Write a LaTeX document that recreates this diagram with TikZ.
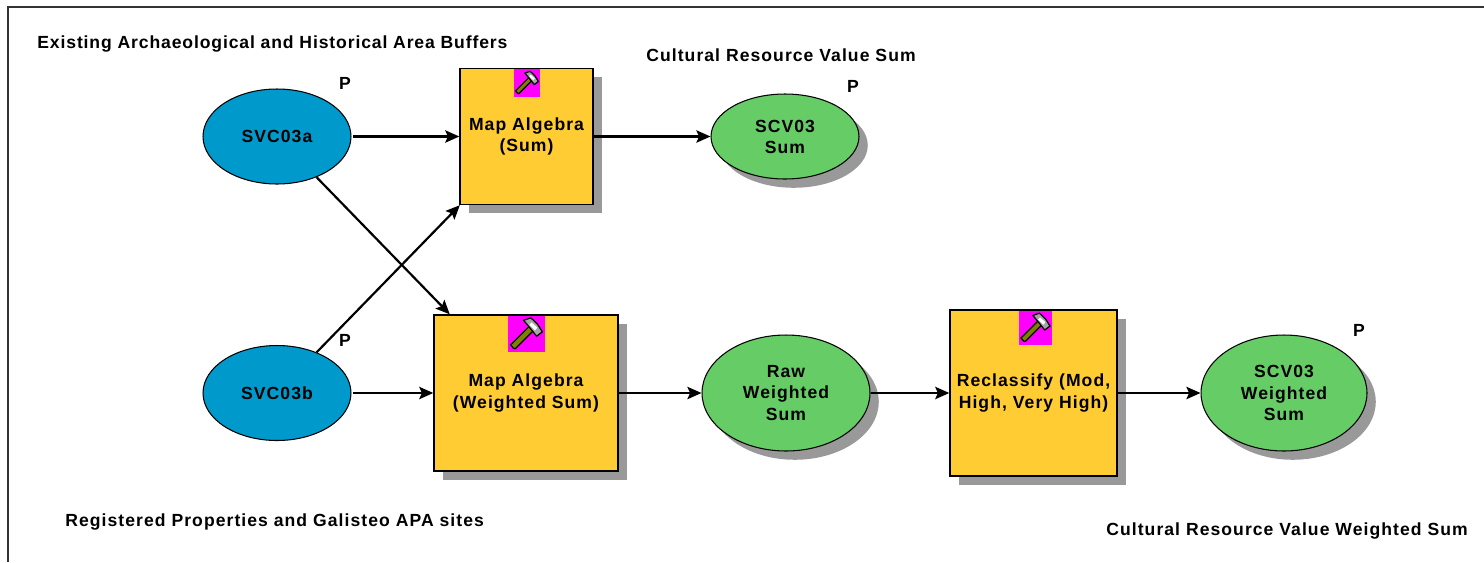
\documentclass[tikz,border=0pt]{standalone}
\usepackage{fontspec}
\setmainfont[LetterSpace=6]{Liberation Sans}
\usepackage{tikz}
\usetikzlibrary{shapes.geometric,shadows,arrows.meta}
\definecolor{inputblue}{HTML}{0099CC}
\definecolor{outputgreen}{HTML}{66CC66}
\definecolor{toolyellow}{HTML}{FFCC33}
\definecolor{shadowgray}{HTML}{999999}
\definecolor{iconpink}{HTML}{FF00FF}
\definecolor{handleolive}{HTML}{808000}

\begin{document}
\begin{tikzpicture}[
  x=0.02cm, y=-0.02cm,
  every node/.style={font=\bfseries\fontsize{10}{12}\selectfont, align=center},
  input/.style={ellipse, draw=black, fill=inputblue, line width=0.6pt, inner sep=0pt},
  output/.style={ellipse, draw=black, fill=outputgreen, line width=0.6pt, inner sep=0pt,
                 drop shadow={shadow xshift=5pt, shadow yshift=-5pt, fill=shadowgray, opacity=1}},
  tool/.style={rectangle, draw=black, fill=toolyellow, line width=0.8pt, inner sep=0pt,
               drop shadow={shadow xshift=5pt, shadow yshift=-5pt, fill=shadowgray, opacity=1}},
  icon/.style={rectangle, fill=iconpink, inner sep=0pt},
  label/.style={anchor=west, inner sep=0pt},
  arrow/.style={-{Stealth[length=8pt,width=7pt,inset=1.5pt]}, line width=1.25pt},
  pics/hammer/.style={code={
    \draw[line width=0.7pt, fill=handleolive] (-0.36,0.40) -- (-0.44,0.30) -- (0.08,-0.22) -- (0.20,-0.10) -- (-0.30,0.40) -- cycle;
    \draw[line width=0.7pt, fill=gray!70] (-0.08,-0.38) -- (0.12,-0.45) -- (0.30,-0.28) -- (0.44,-0.06) -- (0.28,0.06) -- (0.12,-0.14) -- (0.02,-0.26) -- cycle;
    \fill[white] (0.14,-0.32) -- (0.30,-0.18) -- (0.24,-0.10) -- (0.08,-0.26) -- cycle;
  }}
]
\useasboundingbox (0,0) rectangle (1484,562);

% Frame
\coordinate (frameA) at (8,562);
\coordinate (frameB) at (8,7);
\coordinate (frameC) at (1484,7);
\draw[line width=0.6pt, black!80] (frameA) -- (frameB) -- (frameC);

% Inputs
\node[input, minimum width=2.96cm, minimum height=1.9cm] (svca) at (277,136.5) {SVC03a};
\node[input, minimum width=2.96cm, minimum height=1.9cm] (svcb) at (277,393) {SVC03b};

% Top row
\node[tool, minimum width=2.66cm, minimum height=2.72cm] (sumtool) at (526.5,136.5) {Map Algebra\\(Sum)};
\node[output, minimum width=2.96cm, minimum height=1.7cm] (sumout) at (785,136.5) {SCV03\\Sum};

% Bottom row
\node[tool, minimum width=3.68cm, minimum height=3.12cm] (wsumtool) at (526,393) {Map Algebra\\(Weighted Sum)};
\node[output, minimum width=3.36cm, minimum height=2.32cm] (rawout) at (786,393) {Raw\\Weighted\\Sum};
\node[tool, minimum width=3.34cm, minimum height=3.32cm] (reclass) at (1033.5,393) {Reclassify (Mod,\\High, Very High)};
\node[output, minimum width=3.32cm, minimum height=2.32cm] (wsumout) at (1284,393) {SCV03\\Weighted\\Sum};

% Tool icons
\node[icon, minimum width=0.52cm, minimum height=0.56cm] (sumicon) at (527,83) {};
\pic[scale=26] at (sumicon) {hammer};
\node[icon, minimum width=0.74cm, minimum height=0.72cm] (wsumicon) at (526.5,334) {};
\pic[scale=36] at (wsumicon) {hammer};
\node[icon, minimum width=0.66cm, minimum height=0.68cm] (reclassicon) at (1035.5,328) {};
\pic[scale=33] at (reclassicon) {hammer};

% Labels
\node[label] (labela) at (37,43.5) {\addfontfeature{LetterSpace=5}Existing Archaeological and Historical Area Buffers};
\node[label] (labelb) at (646,55) {Cultural Resource Value Sum};
\node[label] (labelc) at (65,521.5) {Registered Properties and Galisteo APA sites};
\node[label] (labeld) at (1106,531) {Cultural Resource Value Weighted Sum};
\node (pa) at (345,83) {P};
\node (pb) at (853,86) {P};
\node (pc) at (345,340) {P};
\node (pd) at (1359,330) {P};

% Arrows
\draw[arrow, shorten <=1pt] (svca) -- (sumtool);
\draw[arrow, shorten <=1pt] (svcb) -- (wsumtool);
\draw[arrow] (svca) -- (wsumtool);
\draw[arrow] (svcb) -- (sumtool);
\draw[arrow] (sumtool) -- (sumout);
\draw[arrow] (wsumtool) -- (rawout);
\draw[arrow] (rawout) -- (reclass);
\draw[arrow] (reclass) -- (wsumout);

\end{tikzpicture}
\end{document}
